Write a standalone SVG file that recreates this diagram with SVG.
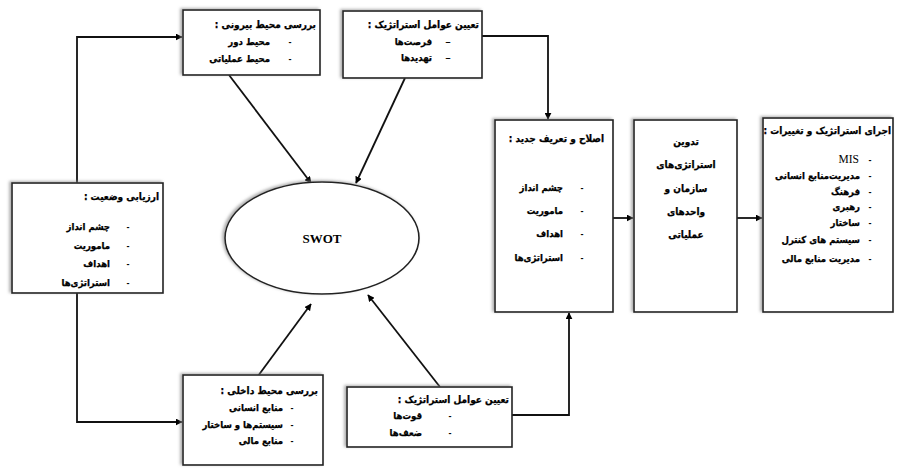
<svg xmlns="http://www.w3.org/2000/svg" width="897" height="470" viewBox="0 0 897 470">
<defs>
<filter id="sh" x="-10%" y="-10%" width="120%" height="120%">
<feDropShadow dx="-2" dy="-1" stdDeviation="1.5" flood-color="#888" flood-opacity="0.7"/>
</filter>
<marker id="ar" viewBox="0 0 10 10" refX="9" refY="5" markerWidth="7" markerHeight="7" markerUnits="userSpaceOnUse" orient="auto">
<path d="M0,0 L10,5 L0,10 z" fill="#000"/>
</marker>
</defs>
<style>
.box{fill:#fff;stroke:#222;stroke-width:1.6;filter:url(#sh)}
.t,.ti,.c{font-family:"DejaVu Sans Condensed","DejaVu Sans",sans-serif;font-stretch:condensed;font-weight:bold;fill:#000;direction:rtl;unicode-bidi:embed;stroke:#000;stroke-width:0.25}
.t{font-size:9.5px;text-anchor:start}
.ti{font-size:10px;text-anchor:start}
.c{font-size:10px;text-anchor:middle}
.d{font-family:"Liberation Sans",sans-serif;font-weight:bold;font-size:9px;fill:#000;text-anchor:middle}
.cn{fill:none;stroke:#111;stroke-width:1.8;marker-end:url(#ar)}
</style>
<rect width="897" height="470" fill="#fff"/>

<g id="connectors">
<path class="cn" d="M77,183 V37 H182"/>
<path class="cn" d="M77,293 V422 H182"/>
<path class="cn" d="M229,75 L311,183"/>
<path class="cn" d="M405,78 L356,183"/>
<path class="cn" d="M258,376 L311,304"/>
<path class="cn" d="M440,387 L368,295"/>
<path class="cn" d="M482,36 H548 V119"/>
<path class="cn" d="M512,415 H569 V313"/>
<path class="cn" d="M613,218 H633"/>
<path class="cn" d="M737,218 H762"/>
</g>

<g id="swot">
<ellipse cx="322" cy="238" rx="97" ry="56" fill="#fff" stroke="#222" stroke-width="1.6" filter="url(#sh)"/>
<text x="322" y="243" font-family="Liberation Serif,serif" font-weight="bold" font-size="13" text-anchor="middle">SWOT</text>
</g>

<g id="external">
<rect class="box" x="183" y="10" width="137" height="65"/>
<text class="ti" x="316" y="28">بررسی محیط بیرونی :</text>
<text class="d" x="290" y="45">-</text><text class="t" x="270" y="45">محیط دور</text>
<text class="d" x="290" y="62">-</text><text class="t" x="270" y="62">محیط عملیاتی</text>
</g>

<g id="opportunities">
<rect class="box" x="343" y="11" width="139" height="67"/>
<text class="ti" x="479" y="28">تعیین عوامل استراتژیک :</text>
<text class="d" x="448" y="45">–</text><text class="t" x="432" y="45">فرصت‌ها</text>
<text class="d" x="448" y="61">–</text><text class="t" x="432" y="61">تهدیدها</text>
</g>

<g id="assessment">
<rect class="box" x="12" y="183" width="151" height="110"/>
<text class="ti" x="159" y="200">ارزیابی وضعیت :</text>
<text class="d" x="128" y="230">-</text><text class="t" x="110" y="230">چشم انداز</text>
<text class="d" x="128" y="249">-</text><text class="t" x="110" y="249">ماموریت</text>
<text class="d" x="128" y="267">-</text><text class="t" x="110" y="267">اهداف</text>
<text class="d" x="128" y="286">-</text><text class="t" x="110" y="286">استراتژی‌ها</text>
</g>

<g id="internal">
<rect class="box" x="183" y="375" width="140" height="90"/>
<text class="ti" x="318" y="394">بررسی محیط داخلی :</text>
<text class="d" x="292" y="411">-</text><text class="t" x="283" y="411">منابع انسانی</text>
<text class="d" x="292" y="428">-</text><text class="t" x="283" y="428">سیستم‌ها و ساختار</text>
<text class="d" x="292" y="444">-</text><text class="t" x="283" y="444">منابع مالی</text>
</g>

<g id="strengths">
<rect class="box" x="347" y="387" width="165" height="60"/>
<text class="ti" x="509" y="403">تعیین عوامل استراتژیک :</text>
<text class="d" x="450" y="419">-</text><text class="t" x="422" y="419">قوت‌ها</text>
<text class="d" x="450" y="436">-</text><text class="t" x="422" y="436">ضعف‌ها</text>
</g>

<g id="revision">
<rect class="box" x="495" y="120" width="118" height="192"/>
<text class="ti" x="604" y="142">اصلاح و تعریف جدید :</text>
<text class="d" x="582" y="191">-</text><text class="t" x="563" y="191">چشم انداز</text>
<text class="d" x="582" y="214">-</text><text class="t" x="563" y="214">ماموریت</text>
<text class="d" x="582" y="237">-</text><text class="t" x="563" y="237">اهداف</text>
<text class="d" x="582" y="261">-</text><text class="t" x="563" y="261">استراتژی‌ها</text>
</g>

<g id="formulation">
<rect class="box" x="634" y="120" width="103" height="192"/>
<text class="c" x="686" y="145">تدوین</text>
<text class="c" x="686" y="168">استراتژی‌های</text>
<text class="c" x="686" y="192">سازمان و</text>
<text class="c" x="686" y="215">واحدهای</text>
<text class="c" x="686" y="238">عملیاتی</text>
</g>

<g id="implementation">
<rect class="box" x="763" y="118" width="130" height="194"/>
<text class="ti" x="891" y="134">اجرای استراتژیک و تغییرات :</text>
<text class="d" x="870" y="163">-</text><text x="859" y="163" font-family="Liberation Serif,serif" font-size="11.5" text-anchor="end">MIS</text>
<text class="d" x="870" y="179">-</text><text class="t" x="860" y="179">مدیریت‌منابع انسانی</text>
<text class="d" x="870" y="195">-</text><text class="t" x="860" y="195">فرهنگ</text>
<text class="d" x="870" y="210">-</text><text class="t" x="860" y="210">رهبری</text>
<text class="d" x="870" y="226">-</text><text class="t" x="860" y="226">ساختار</text>
<text class="d" x="870" y="243">-</text><text class="t" x="860" y="243">سیستم های کنترل</text>
<text class="d" x="870" y="262">-</text><text class="t" x="860" y="262">مدیریت منابع مالی</text>
</g>
</svg>
